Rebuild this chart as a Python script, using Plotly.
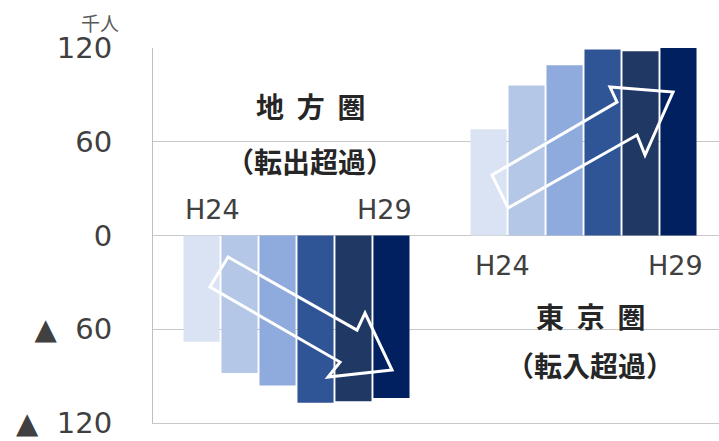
import plotly.graph_objects as go

years = ["H24", "H25", "H26", "H27", "H28", "H29"]
regions = ["地方圏", "東京圏"]
chiho = [-68, -88, -96, -107, -106, -104]   # 地方圏 転出超過 (千人)
tokyo = [68, 96, 109, 119, 118, 120]         # 東京圏 転入超過 (千人)
colors = ["#DAE3F3", "#B4C7E7", "#8FAADC", "#2F5597", "#1F3864", "#002060"]
y_ticks = [120, 60, 0, -60, -120]
y_ticktext = ["120", "60", "0", "▲\u00a0\u00a060", "▲\u00a0\u00a0120"]

fig = go.Figure()
for i, yr in enumerate(years):
    fig.add_trace(go.Bar(
        x=[0, 1], y=[chiho[i], tokyo[i]], name=yr,
        marker=dict(color=colors[i], line=dict(width=0)),
        showlegend=False, hoverinfo="skip",
    ))

def poly(pts):
    return "M " + " L ".join(f"{x},{y}" for x, y in pts) + " Z"

arrow_left = [(-0.2387, -13.8), (0.2108, -60.5), (0.2387, -49.6), (0.3328, -86.1),
              (0.1098, -90.6), (0.1516, -81.0), (-0.3014, -33.0)]
arrow_right = [(0.6812, 38.7), (1.1167, 85.4), (1.0923, 95.0), (1.3118, 91.8),
               (1.2143, 51.5), (1.1864, 64.3), (0.7369, 17.6)]
for pts in (arrow_left, arrow_right):
    fig.add_shape(type="path", path=poly(pts), xref="x", yref="y",
                  line=dict(color="white", width=3), fillcolor="rgba(0,0,0,0)",
                  layer="above")

jp = "Noto Sans CJK JP"
num = "DejaVu Sans"
sp = "\u00a0\u00a0"
jfont = dict(family=jp, size=28, color="#262626")
hfont = dict(family=num, size=27, color="#404040")
anns = [
    dict(x=0.047, y=82.9, text=f"<b>地{sp}方{sp}圏</b>", font=jfont),
    dict(x=0.047, y=47.7, text="<b>（転出超過）</b>", font=jfont),
    dict(x=-0.291, y=16.8, text="H24", font=hfont),
    dict(x=0.308, y=16.8, text="H29", font=hfont),
    dict(x=0.716, y=-19.5, text="H24", font=hfont),
    dict(x=1.319, y=-19.5, text="H29", font=hfont),
    dict(x=1.023, y=-51.5, text=f"<b>東{sp}京{sp}圏</b>", font=jfont),
    dict(x=1.023, y=-82.9, text="<b>（転入超過）</b>", font=jfont),
]
for a in anns:
    fig.add_annotation(xref="x", yref="y", showarrow=False, xanchor="center", yanchor="middle", **a)

fig.add_annotation(xref="paper", yref="paper", x=-0.094, y=1.069, text="千人",
                   showarrow=False, xanchor="center", yanchor="middle",
                   font=dict(family=jp, size=19, color="#595959"))

fig.update_layout(
    width=719, height=441,
    margin=dict(l=153, r=0, t=48, b=18, autoexpand=False),
    paper_bgcolor="white", plot_bgcolor="white",
    barmode="group", bargap=0.206, bargroupgap=0.05,
    xaxis=dict(range=[-0.5, 1.472], showticklabels=False, showgrid=False,
               zeroline=False, showline=True, linecolor="#C8C8C8", linewidth=1,
               ticks="", fixedrange=True, automargin=False),
    yaxis=dict(range=[-120, 120], tickvals=y_ticks, ticktext=y_ticktext,
               showgrid=True, gridcolor="#C8C8C8", gridwidth=1,
               zeroline=True, zerolinecolor="#C8C8C8", zerolinewidth=1,
               showline=True, linecolor="#BFBFBF", linewidth=1,
               ticks="", ticklabelstandoff=34, automargin=False, fixedrange=True,
               tickfont=dict(family=num, size=29, color="#404040")),
)

fig.write_html("out.html", config={"displayModeBar": False},
               post_script="document.body.style.margin='0';")
